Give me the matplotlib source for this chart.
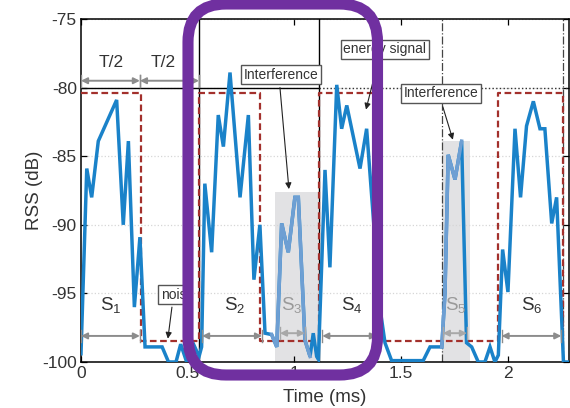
import matplotlib

matplotlib.use("Agg")
import matplotlib.pyplot as plt
import numpy as np
from matplotlib.patches import FancyBboxPatch, Rectangle
from matplotlib.transforms import IdentityTransform

plt.rcParams["font.family"] = ["Liberation Sans", "DejaVu Sans"]
plt.rcParams["axes.unicode_minus"] = False

# received signal strength trace (ms, dB)
t_ms = [0.000, 0.027, 0.050, 0.081, 0.167, 0.198, 0.222, 0.250, 0.276, 0.300,
        0.380, 0.410, 0.445, 0.467, 0.495, 0.530, 0.553, 0.565, 0.580, 0.612,
        0.643, 0.667, 0.698, 0.745, 0.784, 0.810, 0.838, 0.862, 0.893, 0.917,
        0.940, 0.971, 1.002, 1.018, 1.049, 1.073, 1.088, 1.104, 1.112, 1.143,
        1.166, 1.198, 1.221, 1.245, 1.307, 1.338, 1.377, 1.400, 1.424, 1.455,
        1.603, 1.635, 1.690, 1.705, 1.720, 1.752, 1.783, 1.806, 1.830, 1.861,
        1.892, 1.916, 1.939, 1.955, 1.975, 2.000, 2.033, 2.059, 2.087, 2.119,
        2.150, 2.173, 2.205, 2.228, 2.260, 2.300]
rss_db = [-99.4, -85.9, -88.0, -83.9, -80.9, -90.0, -83.9, -96.0, -90.9, -98.9,
          -98.9, -100.0, -100.0, -98.7, -100.0, -98.8, -99.6, -98.9, -87.0, -92.0,
          -82.0, -84.3, -78.9, -88.0, -82.0, -94.0, -90.0, -97.9, -98.0, -98.9,
          -89.9, -92.0, -88.0, -88.0, -98.4, -99.6, -97.9, -99.6, -99.8, -86.0,
          -93.1, -79.8, -83.0, -81.3, -85.9, -83.0, -91.1, -96.0, -98.6, -99.9,
          -99.9, -98.9, -98.9, -95.0, -84.9, -86.7, -83.9, -98.6, -98.9, -100.0,
          -100.0, -98.9, -100.0, -99.5, -91.8, -94.9, -83.0, -88.0, -82.8, -81.0,
          -83.0, -83.0, -89.9, -88.0, -100.0, -100.0]

# ideal on/off energy signal
ideal_t = [0.0, 0.28, 0.28, 0.553, 0.553, 0.84, 0.84, 1.115, 1.115, 1.39,
           1.39, 1.953, 1.953, 2.258, 2.258]
ideal_db = [-80.4, -80.4, -98.5, -98.5, -80.4, -80.4, -98.5, -98.5, -80.4, -80.4,
            -98.5, -98.5, -80.4, -80.4, -98.5]

# interference windows (start, end, peak level)
interf_start = [0.909, 1.692]
interf_end = [1.110, 1.822]
interf_top = [-87.6, -83.9]

# slot segments
seg_start = [0.0, 0.567, 0.932, 1.130, 1.695, 1.970]
seg_end = [0.276, 0.848, 1.049, 1.386, 1.808, 2.250]
seg_label = ["1", "2", "3", "4", "5", "6"]
seg_faded = [False, False, True, False, True, False]
seg_text_x = [0.14, 0.72, 0.985, 1.27, 1.755, 2.11]

BLUE = "#1a82c9"
LIGHT_BLUE = "#6e9fd3"
RED = "#a3302c"
ARROW = "#8c8c8c"
TEXT = "#333333"

fig = plt.figure(figsize=(5.7, 4.08), dpi=100)
ax = fig.add_axes([81 / 570, 46 / 408, 488 / 570, 343 / 408])
ax.set_xlim(0, 2.286)
ax.set_ylim(-100, -75)

ax.yaxis.grid(True, ls=":", color="#d6d6d6", lw=0.9)

for a, b, top in zip(interf_start, interf_end, interf_top):
    ax.add_patch(Rectangle((a, -100), b - a, top + 100, fc="#e2e2e4", ec="none", zorder=1))

ax.axvline(0.553, color="black", lw=1.0, zorder=2)
ax.axvline(1.115, color="black", lw=1.0, zorder=2)
ax.axvline(1.692, color="#444444", lw=0.9, ls="-.", zorder=2)
ax.axvline(2.258, color="#444444", lw=0.9, ls="-.", zorder=2)
ax.plot([0, 1.115], [-80, -80], color="black", lw=1.0, zorder=2)
ax.plot([1.115, 2.286], [-80, -80], color="#333333", lw=1.0, ls=":", zorder=2)

ax.plot(ideal_t, ideal_db, color=RED, lw=1.6, ls=(0, (3, 1.6)), zorder=3)

t = np.array(t_ms)
r = np.array(rss_db)
ax.plot(t, r, color=BLUE, lw=2.5, zorder=4, solid_joinstyle="miter")
for a, b in zip(interf_start, interf_end):
    m = (t >= a + 0.005) & (t <= b - 0.05)
    idx = np.where(m)[0]
    idx = np.r_[idx[0] - 1, idx, idx[-1] + 1]
    ax.plot(t[idx], r[idx], color=LIGHT_BLUE, lw=2.5, zorder=5, solid_joinstyle="miter")


def span_arrow(x0, x1, y, color=ARROW):
    ax.annotate("", xy=(x1, y), xytext=(x0, y),
                arrowprops=dict(arrowstyle="<|-|>", color=color, lw=1.4,
                                mutation_scale=9, shrinkA=0, shrinkB=0), zorder=6)
    ax.plot([x0, x0], [y - 0.45, y + 0.45], color=color, lw=1.0, zorder=6)
    ax.plot([x1, x1], [y - 0.45, y + 0.45], color=color, lw=1.0, zorder=6)


# T/2 spans
span_arrow(0.0, 0.276, -79.5)
span_arrow(0.276, 0.553, -79.5)
ax.text(0.14, -78.2, "T/2", ha="center", va="center", fontsize=12.5, color=TEXT)
ax.text(0.385, -78.2, "T/2", ha="center", va="center", fontsize=12.5, color=TEXT)

for a, b, lab, faded, tx in zip(seg_start, seg_end, seg_label, seg_faded, seg_text_x):
    col = "#a8a8a8" if faded else ARROW
    span_arrow(a, b, -98.1 if not faded else -97.9, col)
    ax.text(tx, -95.9, "S$_\\mathregular{" + lab + "}$", ha="center", va="center",
            fontsize=13.5, color="#9a9a9a" if faded else TEXT, zorder=6)

box = dict(boxstyle="square,pad=0.18", fc="white", ec="#555555", lw=1.0)
ax.text(0.937, -79.05, "Interference", ha="center", va="center", fontsize=10,
        color=TEXT, bbox=box, zorder=7)
ax.annotate("", xy=(0.974, -87.4), xytext=(0.932, -80.0),
            arrowprops=dict(arrowstyle="-|>", color="#222222", lw=0.8,
                            mutation_scale=9, shrinkA=0, shrinkB=0), zorder=7)
ax.text(1.424, -77.2, "energy signal", ha="center", va="center", fontsize=10,
        color=TEXT, bbox=box, zorder=7)
ax.annotate("", xy=(1.335, -81.6), xytext=(1.39, -78.2),
            arrowprops=dict(arrowstyle="-|>", color="#222222", lw=0.8,
                            mutation_scale=9, shrinkA=0, shrinkB=0), zorder=7)
ax.text(1.686, -80.43, "Interference", ha="center", va="center", fontsize=10,
        color=TEXT, bbox=box, zorder=7)
ax.annotate("", xy=(1.742, -83.8), xytext=(1.695, -81.4),
            arrowprops=dict(arrowstyle="-|>", color="#222222", lw=0.8,
                            mutation_scale=9, shrinkA=0, shrinkB=0), zorder=7)
ax.text(0.433, -95.1, "nois", ha="center", va="center", fontsize=10,
        color=TEXT, bbox=box, zorder=7)
ax.annotate("", xy=(0.407, -98.3), xytext=(0.426, -96.0),
            arrowprops=dict(arrowstyle="-|>", color="#222222", lw=0.8,
                            mutation_scale=9, shrinkA=0, shrinkB=0), zorder=7)

ax.set_xticks([0, 0.5, 1, 1.5, 2])
ax.set_xticklabels(["0", "0.5", "1", "1.5", "2"])
ax.set_yticks([-100, -95, -90, -85, -80, -75])
ax.tick_params(direction="in", top=True, right=True, length=4, width=0.9,
               labelsize=12.5, labelcolor=TEXT, pad=3)
for s in ax.spines.values():
    s.set_linewidth(1.1)
ax.set_xlabel("Time (ms)", fontsize=13.5, color=TEXT, labelpad=6)
ax.set_ylabel("RSS (dB)", fontsize=13.5, color=TEXT, labelpad=-1)

# purple highlight frame (pixel coordinates)
frame = FancyBboxPatch((188, 33), 189.5, 371,
                       boxstyle="round,pad=0,rounding_size=38",
                       transform=IdentityTransform(), fc="none", ec="#7030a0",
                       lw=8, clip_on=False, zorder=20)
fig.patches.append(frame)

fig.savefig("out.png", dpi=100)
